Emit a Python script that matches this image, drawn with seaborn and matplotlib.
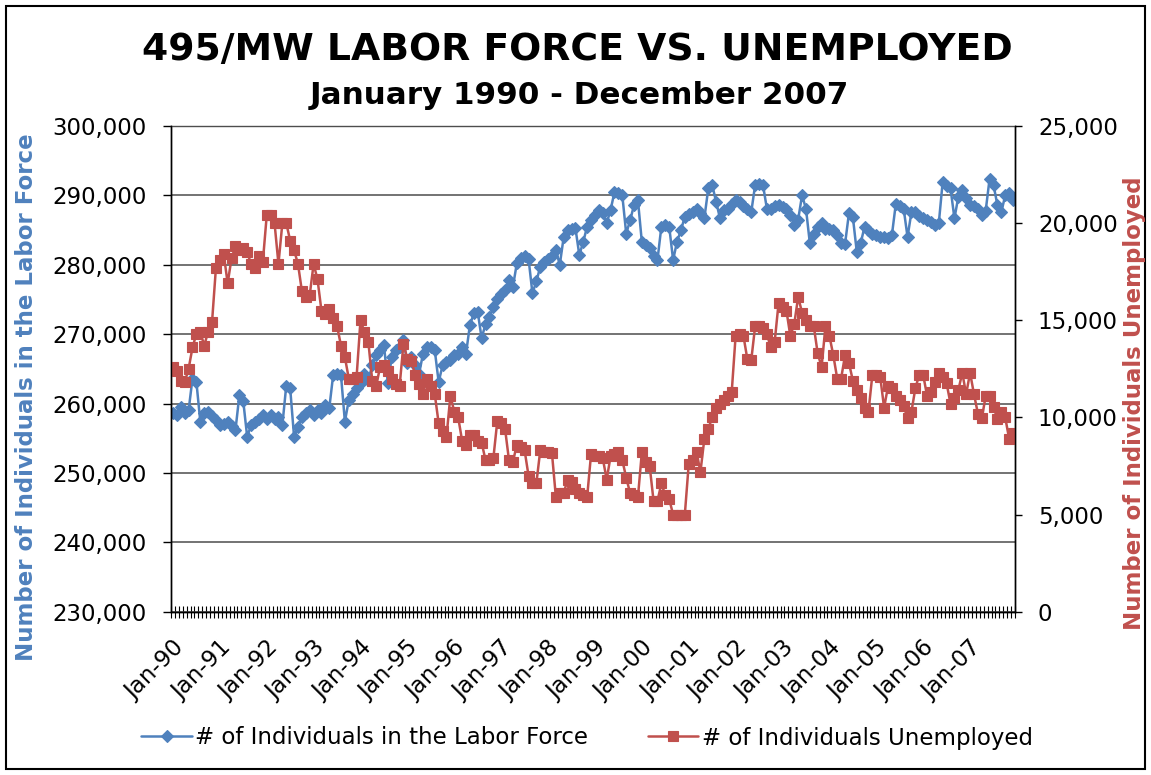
import matplotlib
matplotlib.use("Agg")
import matplotlib.pyplot as plt
import matplotlib.transforms as mtransforms
from matplotlib.patches import Rectangle
from matplotlib.ticker import FixedLocator, StrMethodFormatter
import seaborn as sns
import numpy as np
import pandas as pd

# monthly values, Jan 1990 - Dec 2007 (one row per year)
labor_force = [
    258600, 258300, 259500, 258600, 259000, 263600, 263100, 257400, 258600, 258800, 258200, 257600,
    256900, 257000, 257400, 256800, 256200, 261200, 260300, 255200, 256900, 257400, 257800, 258300,
    257800, 258300, 257800, 258000, 256900, 262600, 262200, 255200, 256600, 258100, 258600, 259000,
    258300, 259000, 258600, 259800, 259300, 264100, 264300, 264100, 257400, 260500, 261400, 262200,
    263000, 264300, 263400, 265500, 267000, 267700, 268400, 262900, 266700, 267700, 268200, 269100,
    265800, 266700, 265500, 264300, 267200, 268200, 268200, 267700, 263100, 265500, 266000, 266300,
    267000, 267200, 268200, 267200, 271300, 273000, 273200, 269400, 271500, 272500, 273900, 275100,
    275800, 276300, 277800, 276800, 280200, 281000, 281200, 280900, 275900, 277600, 279700, 280400,
    280800, 281200, 282100, 280000, 284000, 285000, 285200, 285300, 281400, 283300, 285500, 286400,
    287200, 287900, 287500, 286000, 287900, 290500, 290300, 290000, 284500, 286400, 288600, 289300,
    283300, 282800, 282400, 281200, 280700, 285500, 285700, 285500, 280700, 283300, 285000, 286900,
    287300, 287600, 288100, 287500, 286700, 291000, 291500, 289100, 286700, 287900, 288000, 288800,
    289300, 289100, 288400, 288000, 287600, 291500, 291700, 291500, 288100, 288100, 288400, 288600,
    288300, 288100, 287200, 285700, 286500, 290000, 288100, 283100, 284500, 285500, 286000, 285200,
    285200, 285000, 284300, 283100, 283000, 287400, 286900, 281900, 283100, 285500, 285000, 284500,
    284300, 284000, 284000, 283800, 284300, 288800, 288500, 288100, 284000, 287600, 287600, 287000,
    286700, 286400, 286200, 285700, 286000, 292000, 291300, 291000, 286700, 289800, 290800, 289600,
    288600, 288400, 288100, 287200, 287800, 292400, 291500, 288600, 287600, 290000, 290300, 289300,
]

unemployed = [
    12600, 12400, 11900, 11800, 12500, 13600, 14300, 14400, 13700, 14400, 14900, 17700,
    18100, 18400, 16900, 18200, 18800, 18600, 18700, 18500, 17900, 17700, 18300, 18000,
    20400, 20400, 20000, 17900, 20000, 20000, 19100, 18600, 17900, 16500, 16200, 16300,
    17900, 17100, 15500, 15300, 15600, 15100, 14700, 13700, 13100, 12000, 12000, 12100,
    15000, 14400, 13900, 11900, 11600, 12600, 12700, 12400, 12000, 11700, 11600, 13800,
    13000, 12900, 12200, 11700, 11200, 12000, 11600, 11200, 9700, 9300, 9000, 11100,
    10300, 10000, 8800, 8600, 9100, 9100, 8800, 8700, 7800, 7800, 7900, 9800,
    9700, 9400, 7800, 7700, 8600, 8500, 8300, 7000, 6600, 6600, 8300, 8200,
    8200, 8150, 5900, 6100, 6100, 6800, 6700, 6300, 6100, 6000, 5900, 8100,
    8000, 8000, 7900, 6800, 8000, 8100, 8200, 7800, 6900, 6100, 6000, 5900,
    8200, 7700, 7500, 5700, 5700, 6600, 6000, 5800, 5000, 5000, 5000, 5000,
    7600, 7800, 8200, 7200, 8900, 9400, 10000, 10500, 10700, 10900, 11100, 11300,
    14200, 14300, 14200, 13000, 12950, 14700, 14700, 14600, 14300, 13600, 13900, 15900,
    15700, 15500, 14200, 14800, 16200, 15400, 15000, 14700, 14700, 13300, 12600, 14700,
    14200, 13200, 12000, 12000, 13200, 12800, 11900, 11400, 11000, 10500, 10300, 12200,
    12200, 12100, 10500, 11600, 11500, 11100, 10900, 10600, 9950, 10300, 11500, 12200,
    12200, 11100, 11300, 11800, 12300, 12100, 11750, 10700, 11000, 11400, 12300, 11200,
    12300, 11200, 10200, 9950, 11100, 11100, 10550, 9900, 10300, 10000, 8900, 9200,
]

months = pd.date_range("1990-01-01", periods=len(labor_force), freq="MS")
left_ticks = [230000, 240000, 250000, 260000, 270000, 280000, 290000, 300000]
right_ticks = [0, 5000, 10000, 15000, 20000, 25000]

BLUE = "#4F81BD"
RED = "#C0504D"
FS = 16.5

df = pd.DataFrame({"idx": np.arange(len(months)), "labor": labor_force, "unemp": unemployed})

sns.set_style("white")
plt.rcParams["font.family"] = ["DejaVu Sans"]
plt.rcParams["text.color"] = "black"
plt.rcParams["axes.labelcolor"] = "black"

W, H = 1151, 775
fig = plt.figure(figsize=(W / 100, H / 100), dpi=100)
ax = fig.add_axes([171 / W, 1 - 611.7 / H, (1015 - 171) / W, (611.7 - 126) / H])
ax2 = ax.twinx()

sns.lineplot(data=df, x="idx", y="labor", ax=ax, color=BLUE, lw=1.8, marker="D",
             markersize=6.2, markeredgecolor=BLUE, markeredgewidth=0.8,
             label="# of Individuals in the Labor Force", legend=False)
sns.lineplot(data=df, x="idx", y="unemp", ax=ax2, color=RED, lw=1.8, marker="s",
             markersize=7.0, markeredgecolor=RED, markeredgewidth=0.8,
             label="# of Individuals Unemployed", legend=False)

# axes ranges / ticks
ax.set_xlim(-0.5, len(months) - 0.5)
ax.set_ylim(left_ticks[0], left_ticks[-1])
ax2.set_ylim(right_ticks[0], right_ticks[-1])
ax.set_yticks(left_ticks)
ax2.set_yticks(right_ticks)
ax.yaxis.set_major_formatter(StrMethodFormatter("{x:,.0f}"))
ax2.yaxis.set_major_formatter(StrMethodFormatter("{x:,.0f}"))

jan_idx = np.arange(0, len(months), 12)
ax.set_xticks(jan_idx)
ax.set_xticklabels(months[jan_idx].strftime("%b-%y"))
ax.xaxis.set_minor_locator(FixedLocator(np.arange(-0.5, len(months), 1)))

ax.set_xlabel("")
ax.set_ylabel("")
ax2.set_ylabel("")

ax.grid(axis="y", color="#4d4d4d", lw=1.1)
ax.grid(axis="x", visible=False)
ax.set_axisbelow(True)

for a in (ax, ax2):
    for s in a.spines.values():
        s.set_color("black")
        s.set_linewidth(1.0)
ax.spines["top"].set_color("#4d4d4d")
ax2.spines["top"].set_visible(False)

ax.tick_params(axis="y", direction="out", length=5.8, width=1, pad=11.5,
               labelsize=FS, colors="black", left=True)
ax2.tick_params(axis="y", direction="out", length=5, width=1, pad=11.5,
                labelsize=FS, colors="black", right=True)
ax.tick_params(axis="x", which="major", length=0, pad=23.8, labelsize=FS,
               colors="black", bottom=True)
ax.tick_params(axis="x", which="minor", direction="inout", length=8, width=0.8,
               colors="black", bottom=True)

offset = mtransforms.ScaledTranslation(0.076, 0, fig.dpi_scale_trans)
for lab in ax.get_xticklabels():
    lab.set_rotation(45)
    lab.set_ha("right")
    lab.set_va("center")
    lab.set_rotation_mode("anchor")
    lab.set_transform(lab.get_transform() + offset)

# titles and axis titles
fig.text(577.5 / W, 1 - 60 / H, "495/MW LABOR FORCE VS. UNEMPLOYED",
         ha="center", va="baseline", fontsize=27.2, fontweight="bold", color="black")
fig.text(579 / W, 1 - 104 / H, "January 1990 - December 2007",
         ha="center", va="baseline", fontsize=22.3, fontweight="bold", color="black")
fig.text(27 / W, 1 - 397 / H, "Number of Individuals in the Labor Force", rotation=90,
         ha="center", va="center", fontsize=FS, fontweight="bold", color=BLUE)
fig.text(1135 / W, 1 - 403 / H, "Number of Individuals Unemployed", rotation=90,
         ha="center", va="center", fontsize=FS, fontweight="bold", color=RED)

handles = [ax.lines[0], ax2.lines[0]]
fig.legend(handles, [h.get_label() for h in handles], loc="center",
           bbox_to_anchor=(587 / W, 1 - 738 / H), ncol=2, frameon=False,
           fontsize=FS, handlelength=2.2, handletextpad=0.15, columnspacing=2.6,
           labelcolor="black")

fig.add_artist(Rectangle((6 / W, 6 / H), (1145 - 6) / W, (769 - 6) / H,
                         transform=fig.transFigure, fill=False, ec="black", lw=1.5))

fig.savefig("out.png", dpi=100)
